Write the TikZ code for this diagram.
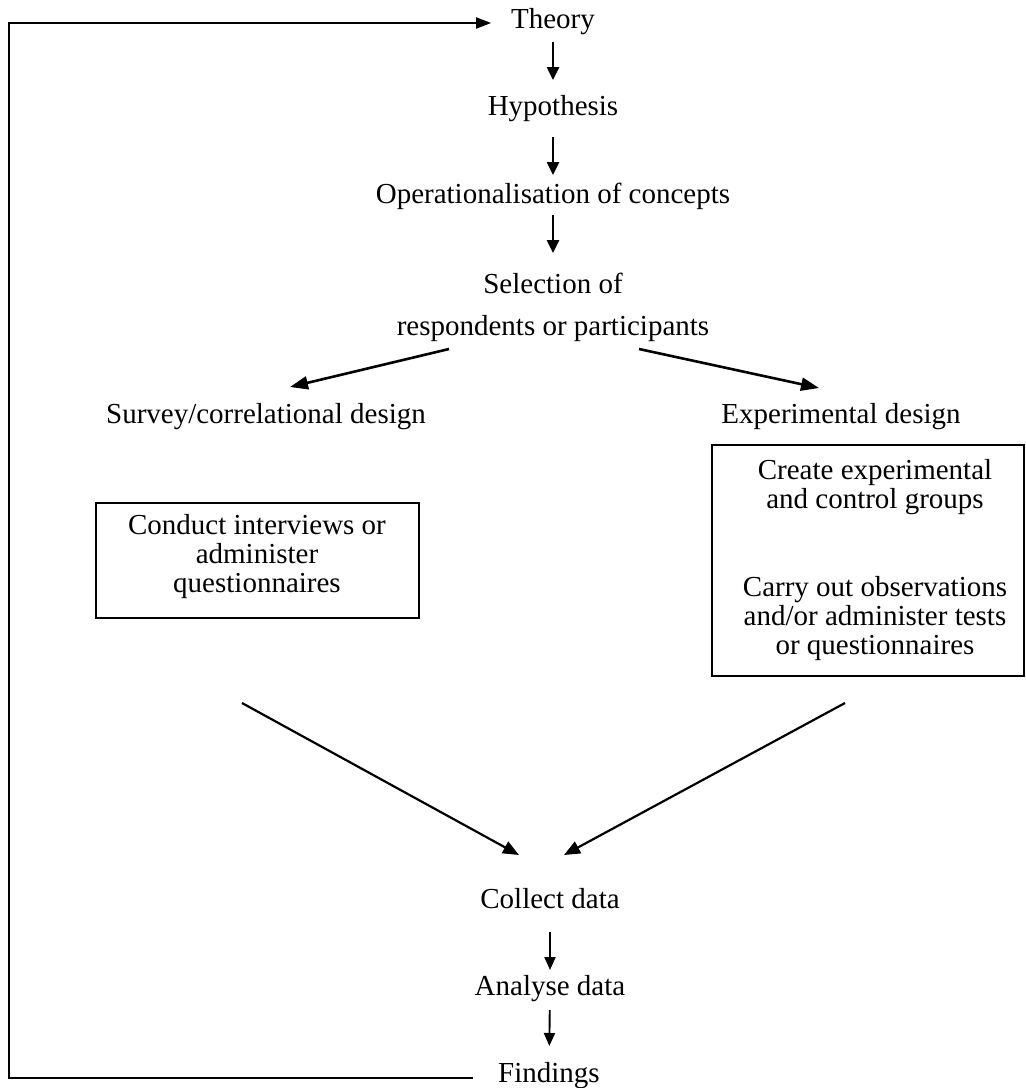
\documentclass[tikz,border=0pt]{standalone}
\usepackage{fontspec}
\setmainfont{Liberation Serif}
\usetikzlibrary{arrows.meta}
\begin{document}
\begin{tikzpicture}[x=1pt,y=-1pt,
  every node/.style={inner sep=0pt, outer sep=0pt},
  txt/.style={font=\fontsize{29}{29}\selectfont, anchor=base, text height=20pt, text depth=6pt},
  boxtxt/.style={font=\fontsize{29}{29}\selectfont, align=center},
  box/.style={draw, line width=2.4pt},
  arr/.style={line width=2.5pt, -{Triangle[length=13pt,width=12pt]}},
  thinarr/.style={line width=1.9pt, -{Triangle[length=13pt,width=11pt]}},
  branch/.style={line width=2.6pt, -{Triangle[length=18pt,width=13pt]}},
  merge/.style={line width=2.2pt, -{Triangle[length=16pt,width=13pt]}},
  loopline/.style={line width=2pt, -{Triangle[length=15pt,width=11pt]}}
]
\useasboundingbox (0,0) rectangle (1026,1088);

% main column
\node[txt] (theory)  at (553,28)  {Theory};
\node[txt] (hyp)     at (553,115) {Hypothesis};
\node[txt] (ops)     at (553,203) {Operationalisation of concepts};
\node[txt] (sel)     at (553,293) {Selection of};
\node[txt] (resp)    at (553,335) {respondents or participants};

% the two designs
\node[txt] (survey)  at (266,423) {Survey/correlational design};
\node[txt] (exper)   at (841,423) {Experimental design};

\node[box, minimum width=323pt, minimum height=115pt] (lbox) at (257.5,560.5) {};
\node[boxtxt] (ltext) at (257,557) {Conduct interviews or\\administer\\questionnaires};

\node[box, minimum width=312pt, minimum height=231pt] (rbox) at (868,560.5) {};
\node[boxtxt] (rtext) at (875,560) {Create experimental\\and control groups\\[59pt]Carry out observations\\and/or administer tests\\or questionnaires};

% lower column
\node[txt] (collect) at (550,908)  {Collect data};
\node[txt] (analyse) at (550,995)  {Analyse data};
\node[txt] (find)    at (549,1082) {Findings};

\coordinate (loop) at (9,23);

% vertical steps
\draw[arr, shorten <=8pt,  shorten >=15pt] (theory) -- (hyp);
\draw[arr, shorten <=16pt, shorten >=8pt]  (hyp) -- (ops);
\draw[arr, shorten <=6pt,  shorten >=20pt] (ops) -- (sel);
\draw[thinarr, shorten <=18pt, shorten >=5pt]  (collect) -- (analyse);
\draw[thinarr, shorten <=9pt,  shorten >=16pt] (analyse) -- (find);

% branching
\draw[branch] ([xshift=-104pt,yshift=-8pt]resp.south) -- ([xshift=24pt,yshift=16pt]survey.north);
\draw[branch] ([xshift=86pt,yshift=-8pt]resp.south) -- ([xshift=-22pt,yshift=15pt]exper.north);

% merging
\draw[merge] ([xshift=-15.5pt,yshift=-85pt]lbox.south) -- ([xshift=-31pt,yshift=33pt]collect.north);
\draw[merge] ([xshift=-23pt,yshift=-27pt]rbox.south) -- ([xshift=14pt,yshift=33pt]collect.north);

% feedback loop
\draw[loopline] ([xshift=-25pt,yshift=-3pt]find.west) -| (loop) -- ([xshift=-20pt,yshift=-2pt]theory.west);
\end{tikzpicture}
\end{document}
